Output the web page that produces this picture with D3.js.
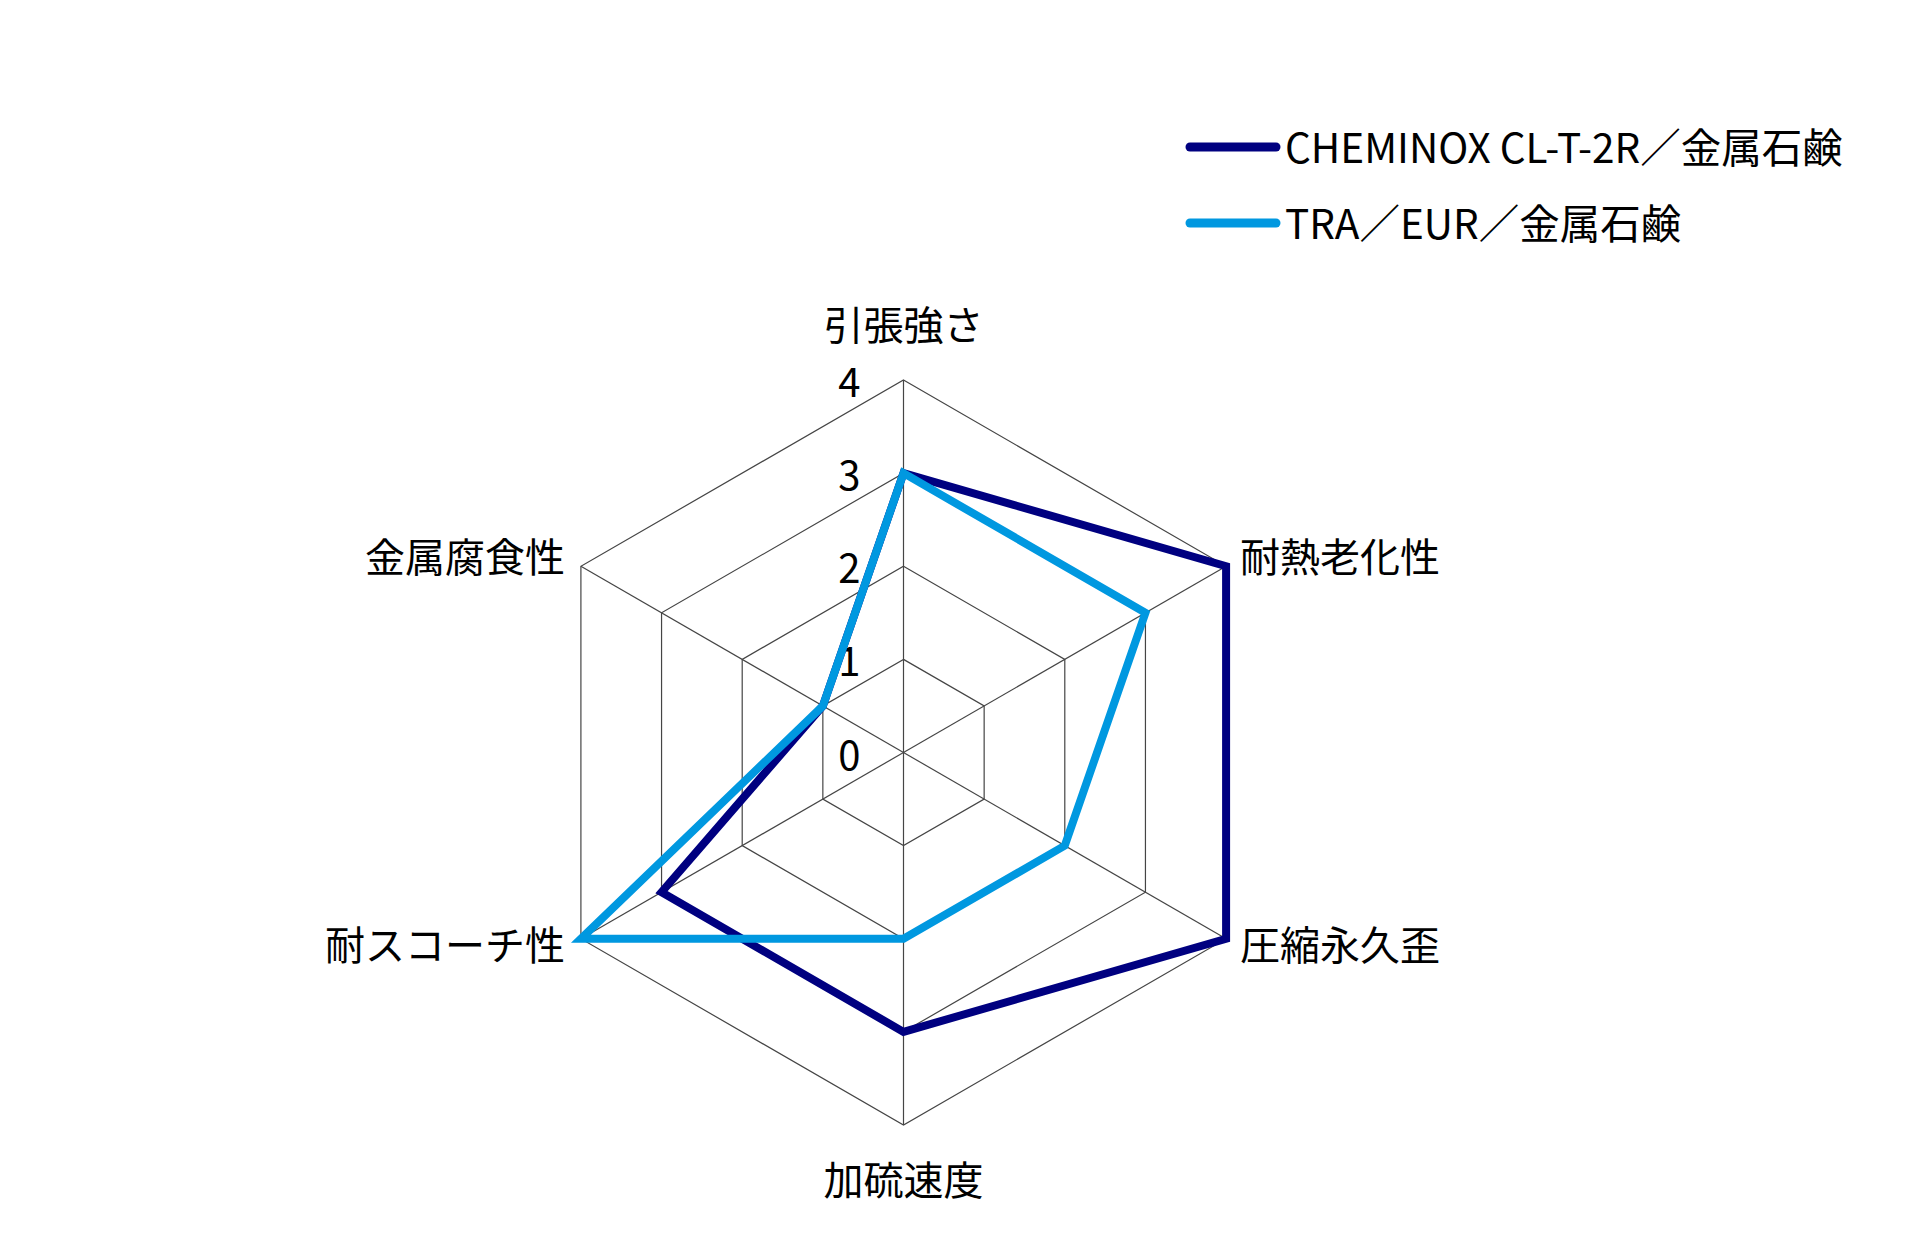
<!DOCTYPE html>
<html><head><meta charset="utf-8">
<script src="https://cdn.jsdelivr.net/npm/d3@7"></script>
<style>
html,body{margin:0;padding:0;background:#fff;}
svg text{font-family:"Noto Sans CJK JP","Noto Sans",sans-serif;fill:#000;}
</style></head>
<body>
<svg id="chart" width="1920" height="1260"></svg>
<script>
const categories = ["引張強さ","耐熱老化性","圧縮永久歪","加硫速度","耐スコーチ性","金属腐食性"];
const seriesNames = ["CHEMINOX CL-T-2R／金属石鹸","TRA／EUR／金属石鹸"];
const seriesA = [3,4,4,3,3,1];
const seriesB = [3,3,2,2,4,1];
const tickValues = [0,1,2,3,4];
const colors = ["#000080","#0098e0"];

const svg = d3.select("#chart");
const cx = 903.5, cy = 752.5, R = 372.5;
const r = d3.scaleLinear().domain([0,4]).range([0,R]);
const angle = d3.scalePoint().domain(categories).range([0, 2*Math.PI*(5/6)]);
const pt = (cat, v) => {
  const a = angle(cat);
  return [cx + r(v)*Math.sin(a), cy - r(v)*Math.cos(a)];
};

const g = svg.append("g");
tickValues.filter(t=>t>0).forEach(t=>{
  g.append("path")
   .attr("d", d3.line()(categories.map(c=>pt(c,t))) + "Z")
   .attr("fill","none").attr("stroke","#454545").attr("stroke-width",1.2);
});
categories.forEach(c=>{
  const [x,y] = pt(c,4);
  g.append("line").attr("x1",cx).attr("y1",cy).attr("x2",x).attr("y2",y)
   .attr("stroke","#454545").attr("stroke-width",1.2);
});
tickValues.forEach(t=>{
  g.append("text").attr("x",cx-43).attr("y",cy - r(t))
   .attr("text-anchor","end").attr("dominant-baseline","central")
   .attr("font-size",40).text(t);
});
[seriesA, seriesB].forEach((s,i)=>{
  g.append("path")
   .attr("d", d3.line()(categories.map((c,j)=>pt(c,s[j]))) + "Z")
   .attr("fill","none").attr("stroke",colors[i]).attr("stroke-width",8)
   .attr("stroke-linejoin","miter");
});
const labelPos = [
  {dx:0, dy:-57, anchor:"middle"},
  {dx:14, dy:-11, anchor:"start"},
  {dx:14, dy:4, anchor:"start"},
  {dx:0, dy:53, anchor:"middle"},
  {dx:-16, dy:4, anchor:"end"},
  {dx:-16, dy:-11, anchor:"end"}
];
categories.forEach((c,i)=>{
  const [x,y] = pt(c,4);
  g.append("text").attr("x",x+labelPos[i].dx).attr("y",y+labelPos[i].dy)
   .attr("text-anchor",labelPos[i].anchor).attr("dominant-baseline","central")
   .attr("font-size",40).text(c);
});
const lg = svg.append("g");
seriesNames.forEach((n,i)=>{
  const y = 147 + i*76;
  lg.append("line").attr("x1",1190).attr("x2",1276).attr("y1",y).attr("y2",y)
    .attr("stroke",colors[i]).attr("stroke-width",9).attr("stroke-linecap","round");
  lg.append("text").attr("x",1285).attr("y",y-2).attr("dominant-baseline","central")
    .attr("font-size",40.5).text(n);
});
</script>
</body></html>
